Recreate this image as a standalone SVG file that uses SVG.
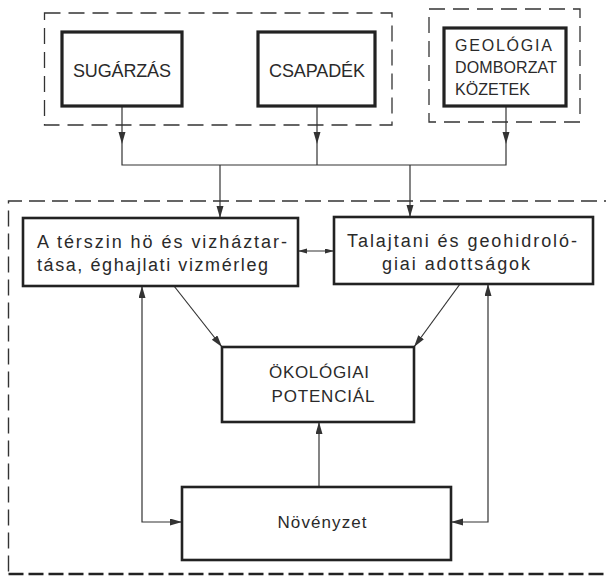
<svg xmlns="http://www.w3.org/2000/svg" width="606" height="577" viewBox="0 0 606 577">
<style>
.bg{fill:#fff}
.dash{fill:none;stroke:#333;stroke-width:1.3;stroke-dasharray:16 8}
.big{fill:none;stroke:#333;stroke-width:1.4;stroke-dasharray:16 7}
.bot{fill:none;stroke:#222;stroke-width:2.6;stroke-dasharray:15 5}
.thick{fill:#fff;stroke:#222;stroke-width:3.2}
.box{fill:#fff;stroke:#222;stroke-width:2.6}
.c{fill:none;stroke:#333;stroke-width:1.2}
text{font-family:"Liberation Sans",Arial,sans-serif;fill:#2a2a2a}
.cap{font-size:18px}
.g{font-size:16px}
.lc{font-size:18px}
.m{font-size:17px}
</style>
<defs>
<marker id="ah" markerUnits="userSpaceOnUse" markerWidth="13" markerHeight="8" refX="12" refY="3.5" orient="auto-start-reverse">
<path d="M0,0 L12,3.5 L0,7 z" fill="#333"/>
</marker>
<marker id="ahs" markerUnits="userSpaceOnUse" markerWidth="10" markerHeight="6" refX="9" refY="2.5" orient="auto-start-reverse">
<path d="M0,0 L9,2.5 L0,5 z" fill="#333"/>
</marker>
</defs>
<rect class="bg" width="606" height="577"/>
<g id="frames">
<rect class="dash" x="44.5" y="13" width="347.5" height="112"/>
<rect class="dash" x="429" y="9" width="151" height="113"/>
<path class="big" d="M620,201 H8.5 V574"/>
<path class="bot" d="M8.5,574 H620"/>
</g>
<g id="connectors">
<path class="c" d="M122,106 V144" marker-end="url(#ah)"/>
<path class="c" d="M317,106 V144" marker-end="url(#ah)"/>
<path class="c" d="M506,106 V144" marker-end="url(#ah)"/>
<path class="c" d="M122,144 V165 H506 V144 M317,144 V165"/>
<path class="c" d="M220,165 V218" marker-end="url(#ah)"/>
<path class="c" d="M410,165 V217" marker-end="url(#ah)"/>
<path class="c" d="M298,251 H334" marker-start="url(#ahs)" marker-end="url(#ahs)"/>
<path class="c" d="M174,286 L222,347" marker-end="url(#ah)"/>
<path class="c" d="M460,284 L414,347" marker-end="url(#ah)"/>
<path class="c" d="M319,487 V422" marker-end="url(#ah)"/>
<path class="c" d="M182,522 H142 V286" marker-start="url(#ah)" marker-end="url(#ah)"/>
<path class="c" d="M451,522 H488 V284" marker-start="url(#ah)" marker-end="url(#ah)"/>
</g>
<g id="sugarzas">
<rect class="thick" x="62" y="32" width="120" height="74"/>
<text class="cap" x="122" y="77" text-anchor="middle" textLength="98">SUGÁRZÁS</text>
</g>
<g id="csapadek">
<rect class="thick" x="258" y="32" width="117" height="74"/>
<text class="cap" x="317" y="77" text-anchor="middle" textLength="96">CSAPADÉK</text>
</g>
<g id="geologia">
<rect class="thick" x="444" y="28" width="122" height="78"/>
<text class="g" x="455" y="51" textLength="97">GEOLÓGIA</text>
<text class="g" x="455" y="73" textLength="102">DOMBORZAT</text>
<text class="g" x="455" y="95" textLength="75">KÖZETEK</text>
</g>
<g id="terszin">
<rect class="box" x="23" y="218" width="275" height="68"/>
<text class="lc" x="37" y="248" textLength="250">A térszin hö és vizháztar-</text>
<text class="lc" x="37" y="271" textLength="231">tása, éghajlati vizmérleg</text>
</g>
<g id="talajtani">
<rect class="box" x="334" y="217" width="259" height="67"/>
<text class="lc" x="462" y="247" text-anchor="middle" textLength="230">Talajtani és geohidroló-</text>
<text class="lc" x="456" y="270" text-anchor="middle" textLength="148">giai adottságok</text>
</g>
<g id="okologiai">
<rect class="box" x="222" y="347" width="192" height="75"/>
<text class="m" x="319" y="378" text-anchor="middle" textLength="100">ÖKOLÓGIAI</text>
<text class="m" x="323" y="402" text-anchor="middle" textLength="103">POTENCIÁL</text>
</g>
<g id="novenyzet">
<rect class="box" x="182" y="487" width="269" height="73"/>
<text class="m" x="322" y="528" text-anchor="middle" textLength="89">Növényzet</text>
</g>
</svg>
